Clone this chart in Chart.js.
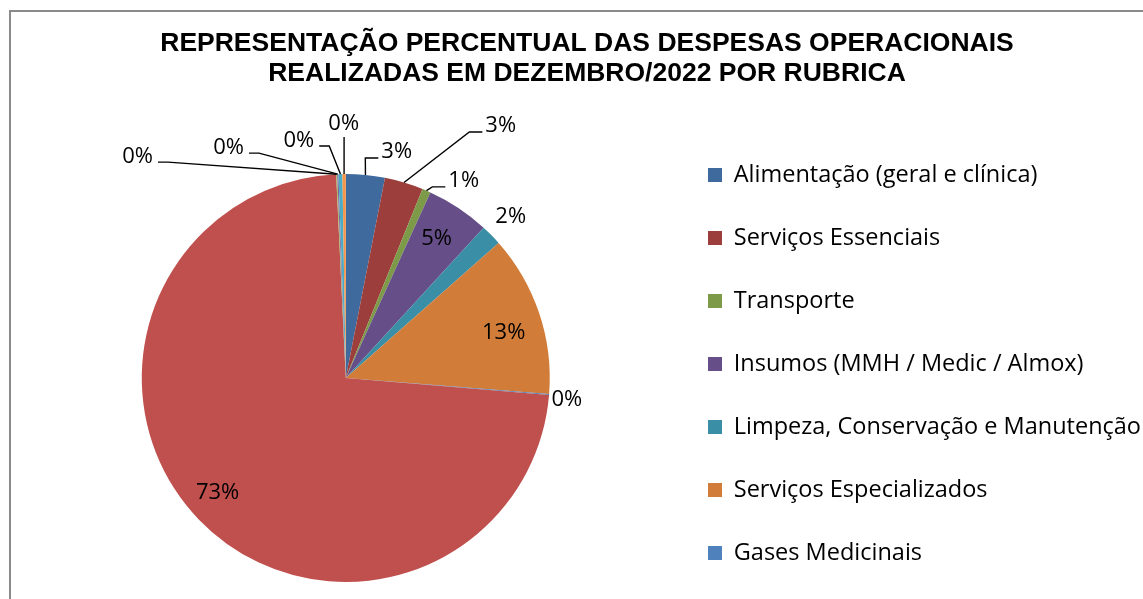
<!DOCTYPE html>
<html>
<head>
<meta charset="utf-8">
<script src="https://cdn.jsdelivr.net/npm/chart.js@4/dist/chart.umd.min.js"></script>
<style>
  html, body { margin: 0; padding: 0; background: #fff; overflow: hidden; }
  #frame { position: absolute; left: 9px; top: 10px; width: 1140px; height: 700px; border: 2px solid #8a8a8a; }
</style>
</head>
<body>
<div id="frame"><canvas id="despesasPie"></canvas></div>
<script>
const titulo = [
  'REPRESENTAÇÃO PERCENTUAL DAS DESPESAS OPERACIONAIS',
  'REALIZADAS EM DEZEMBRO/2022 POR RUBRICA'
];

const rubricas = [
  'Alimentação (geral e clínica)',
  'Serviços Essenciais',
  'Transporte',
  'Insumos (MMH / Medic / Almox)',
  'Limpeza, Conservação e Manutenção',
  'Serviços Especializados',
  'Gases Medicinais',
  'Pessoal e Encargos',
  'Locação de Equipamentos',
  'Despesas Administrativas',
  'Tributos e Taxas',
  'Outras Despesas'
];

// percentual de cada rubrica
const percentuais = [3.08, 3.06, 0.67, 5.0, 1.67, 12.78, 0.06, 72.94, 0.08, 0.10, 0.31, 0.26];

const cores = [
  '#3e6a9e', '#9c3f3c', '#7d9a49', '#664f88', '#3a8ea5', '#d17c38',
  '#4f81bd', '#c0504d', '#9bbb59', '#8064a2', '#4bacc6', '#f79646'
];

// só as 7 primeiras aparecem na legenda (o resto fica fora do recorte)
const itensLegenda = 7;

// posição dos rótulos: [ângulo a partir das 12h (graus), distância / raio, linha guia]
const posRotulos = [
  [12.7, 1.136, 'd'],
  [31.6, 1.450, 'd'],
  [30.9, 1.126, 'd'],
  [33.2, 0.814, ''],
  [45.7, 1.130, ''],
  [74.1, 0.805, ''],
  [95.7, 1.089, ''],
  [228.1, 0.844, ''],
  [316.7, 1.488, 'e'],
  [333.0, 1.265, 'e'],
  [348.8, 1.184, 'e'],
  [359.55, 1.245, 'v']
];

const fonteRotulo = '22px "Open Sans"';

const rotulosPlugin = {
  id: 'rotulos',
  afterDatasetsDraw(chart) {
    const ctx = chart.ctx;
    const arcs = chart.getDatasetMeta(0).data;
    const total = percentuais.reduce((a, b) => a + b, 0);
    ctx.save();
    ctx.font = fonteRotulo;
    ctx.fillStyle = '#000';
    ctx.strokeStyle = '#000';
    ctx.lineWidth = 1.4;
    ctx.textAlign = 'center';
    ctx.textBaseline = 'middle';
    arcs.forEach((arc, i) => {
      const p = arc.getProps(['x', 'y', 'startAngle', 'endAngle', 'outerRadius'], true);
      const [grau, dist, guia] = posRotulos[i];
      const a = (grau - 90) * Math.PI / 180;
      const lx = p.x + Math.cos(a) * dist * p.outerRadius;
      const ly = p.y + Math.sin(a) * dist * p.outerRadius;
      const texto = Math.round(percentuais[i] / total * 100) + '%';
      if (guia) {
        const meio = (p.startAngle + p.endAngle) / 2;
        const sx = p.x + Math.cos(meio) * p.outerRadius;
        const sy = p.y + Math.sin(meio) * p.outerRadius;
        const w = ctx.measureText(texto).width;
        ctx.beginPath();
        ctx.moveTo(sx, sy);
        if (guia === 'v') {
          ctx.lineTo(sx, ly + 13);
        } else if (guia === 'd') {
          const fim = lx - w / 2 - 3;
          ctx.lineTo(fim - 13, ly + 6);
          ctx.lineTo(fim, ly + 6);
        } else {
          const fim = lx + w / 2 + 5;
          ctx.lineTo(fim + 10, ly + 5);
          ctx.lineTo(fim, ly + 5);
        }
        ctx.stroke();
      }
      ctx.fillText(texto, lx, ly);
    });
    ctx.restore();
  }
};

new Chart(document.getElementById('despesasPie'), {
  type: 'pie',
  data: {
    labels: rubricas,
    datasets: [{
      data: percentuais,
      backgroundColor: cores,
      borderWidth: 0,
      radius: 204
    }]
  },
  options: {
    responsive: true,
    maintainAspectRatio: false,
    animation: false,
    layout: {
      padding: { left: 12, right: 0, top: 0, bottom: 79.75 }
    },
    plugins: {
      title: {
        display: true,
        text: titulo,
        color: '#000',
        font: { family: 'Liberation Sans', size: 26.5, weight: 'bold', lineHeight: 1.106 },
        padding: { top: 17.4, bottom: 35.75 }
      },
      legend: {
        position: 'right',
        align: 'start',
        fullSize: false,
        labels: {
          boxWidth: 14,
          boxHeight: 14,
          padding: 39.5,
          color: '#000',
          font: { family: 'Open Sans', size: 23.5 },
          filter: (item) => item.index < itensLegenda
        }
      },
      tooltip: { enabled: false }
    }
  },
  plugins: [rotulosPlugin]
});
</script>
</body>
</html>
